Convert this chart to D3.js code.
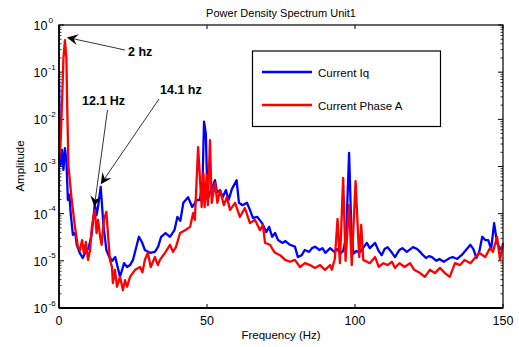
<!DOCTYPE html>
<html><head><meta charset="utf-8">
<script src="https://cdn.jsdelivr.net/npm/d3@7"></script>
<style>body{margin:0;background:#fff}svg{display:block}text{font-family:"Liberation Sans",Arial,sans-serif}</style>
</head><body><svg id="c" width="519" height="347"></svg>
<script>
const xTicks=[0,50,100,150];
const yTickExps=[0,-1,-2,-3,-4,-5,-6];
// Current Iq: frequency (Hz) and log10 amplitude
const freqIq=[0,0.5,1,1.5,2,2.5,3,3.5,4,4.7,5.5,6,7,8,9,10,11,12.1,12.7,13.2,14.1,15,16,17,18,19,20.6,22,23,24,25,27,28,29,30.7,32.4,33.5,34.5,36,37.5,39,40,41,42,43.6,45,46.6,47.6,48.5,49,49.6,50.2,51,52,52.7,53.4,54.4,55.3,56.4,57.3,58.4,60,60.8,62,63.5,64.5,65.5,67,68.6,70,71,72,73,74,75.5,76.5,78,79.7,80.7,82,83,84.5,85.5,86.5,88,89,90,91.6,93,94,95,96,97,98,98.8,99.5,100.5,101.5,102.7,104,105,106.8,108,109,110,111,112.5,113.5,115,116,117.5,119.6,121,122,123,124,125,126,127.5,128.5,130,131,132,133,134.5,136,137.5,139,140,141,142,143,144,145,146,147,148,149,150];
const logIq=[-1.17,-2.97,-2.65,-3.07,-2.61,-2.86,-3.71,-3.60,-4.03,-4.45,-4.41,-4.66,-4.83,-4.94,-4.81,-4.73,-4.45,-3.80,-4.03,-3.85,-3.43,-4.24,-4.77,-4.92,-5.00,-4.92,-5.34,-5.05,-5.13,-5.09,-4.98,-4.49,-4.60,-4.77,-4.83,-4.81,-4.70,-4.49,-4.41,-4.49,-4.35,-4.07,-4.15,-3.77,-3.65,-3.86,-3.71,-3.71,-3.30,-2.05,-2.30,-3.71,-3.55,-3.40,-3.29,-3.55,-3.50,-3.65,-3.50,-3.71,-3.48,-3.29,-3.77,-3.82,-3.77,-3.92,-4.09,-4.07,-4.20,-4.39,-4.28,-4.49,-4.41,-4.56,-4.62,-4.58,-4.66,-4.70,-4.92,-4.88,-4.77,-4.81,-4.73,-4.70,-4.77,-4.73,-4.83,-4.73,-4.81,-4.75,-4.85,-4.79,-4.50,-2.71,-4.40,-4.85,-4.79,-4.83,-4.73,-4.62,-4.73,-4.62,-4.79,-4.88,-4.75,-4.71,-4.83,-4.92,-4.77,-4.73,-4.81,-4.71,-4.75,-4.81,-4.88,-4.94,-4.90,-4.92,-5.00,-4.96,-5.02,-4.98,-4.94,-4.92,-4.96,-4.88,-4.77,-4.66,-4.75,-4.94,-4.80,-4.49,-4.56,-4.56,-4.75,-4.20,-4.62,-4.75,-4.71];
// Current Phase A: frequency (Hz) and log10 amplitude
const freqA=[0,0.6,1.1,1.5,2,2.5,2.8,3.2,4.3,5.4,6.4,7.1,7.8,8.4,9.1,9.8,10.5,11.1,12.1,12.7,13.2,13.9,14.4,15.2,16,16.7,17.2,17.9,18.2,18.9,19.6,20.6,21.6,22.3,23,24,25.7,27.4,28.2,29,30,31,32.4,33.4,34.1,35.8,37.5,38.5,39.5,40.9,42.6,44.3,45.3,45.9,47,48.2,48.8,49.2,49.9,50.3,51,51.6,52.7,53.5,54.4,55.7,56.7,57.8,59.5,61.1,62.8,64.5,66.2,67.9,68.9,69.6,71.3,72.3,73,74.7,76.4,78,79.7,81.4,83.1,84.8,86.5,88.2,89.9,91.6,92.2,93.2,94.1,94.9,96,96.8,98,98.9,100.2,101.4,102.1,102.8,104,105,106.8,108,109.6,111,112.5,113.5,115,116.7,118.6,120,122,123.6,125.3,127,128.7,130.4,132,133.8,135.5,137,139,140.5,142,144,145.6,146.6,148,149,150];
const logA=[-2.86,-2.40,-1.50,-0.70,-0.32,-0.70,-1.80,-3.00,-3.71,-4.28,-4.71,-4.77,-4.56,-4.83,-4.60,-4.98,-4.77,-4.28,-3.92,-4.41,-4.13,-4.49,-4.66,-4.13,-3.96,-4.56,-4.98,-5.13,-5.47,-5.19,-5.55,-5.34,-5.62,-5.41,-5.55,-5.34,-5.19,-5.13,-5.24,-4.98,-4.83,-5.13,-4.92,-5.09,-4.98,-4.83,-4.66,-4.81,-4.71,-4.41,-4.35,-4.28,-3.99,-4.13,-2.59,-3.86,-3.14,-3.86,-3.18,-3.82,-2.44,-3.77,-3.35,-3.77,-3.50,-3.82,-3.65,-3.92,-3.77,-4.07,-3.88,-4.20,-4.13,-4.35,-4.24,-4.62,-4.66,-4.77,-4.83,-4.88,-4.98,-5.02,-4.98,-5.13,-5.05,-5.09,-5.15,-5.09,-5.19,-5.09,-5.19,-4.95,-4.11,-5.05,-3.24,-5.00,-3.82,-5.09,-3.31,-4.92,-4.24,-4.98,-5.02,-5.05,-4.92,-5.13,-5.05,-5.09,-5.02,-5.15,-5.05,-5.13,-5.05,-5.19,-5.26,-5.34,-5.19,-5.26,-5.15,-5.26,-5.34,-5.05,-5.09,-4.98,-5.05,-4.94,-4.83,-4.92,-4.73,-4.81,-4.49,-4.98,-4.62];
const seriesNames=["Current Iq","Current Phase A"];
const seriesColors=["#0000ff","#ff0000"];
const annotations=[
  {label:"2 hz",tx:128,ty:56,x1:125,y1:50,f:2,v:0.52,dx:2,dy:-1},
  {label:"12.1 Hz",tx:82,ty:105,x1:107.5,y1:110,f:12.1,v:1.3e-4,dx:-0.5,dy:-1.5},
  {label:"14.1 hz",tx:160,ty:94,x1:159,y1:99,f:14.1,v:4.0e-4,dx:0,dy:-1}
];

const svg=d3.select("#c");
const L=59,R=503,T=25,B=308;
const x=d3.scaleLinear().domain([0,150]).range([L,R]);
const y=d3.scaleLog().domain([1e-6,1]).range([B,T]);

// minor ticks
const minor=[];
for(let e=-6;e<0;e++)for(let k=2;k<10;k++)minor.push(k*Math.pow(10,e));
const g=svg.append("g");
g.selectAll(".mnl").data(minor).join("line").attr("x1",L).attr("x2",L+2.5).attr("y1",d=>y(d)).attr("y2",d=>y(d)).attr("stroke","#000").attr("stroke-width",0.8);
g.selectAll(".mnr").data(minor).join("line").attr("x1",R).attr("x2",R-2.5).attr("y1",d=>y(d)).attr("y2",d=>y(d)).attr("stroke","#000").attr("stroke-width",0.8);
g.selectAll(".mjl").data(yTickExps).join("line").attr("x1",L).attr("x2",L+5).attr("y1",d=>y(Math.pow(10,d))).attr("y2",d=>y(Math.pow(10,d))).attr("stroke","#000");
g.selectAll(".mjr").data(yTickExps).join("line").attr("x1",R).attr("x2",R-5).attr("y1",d=>y(Math.pow(10,d))).attr("y2",d=>y(Math.pow(10,d))).attr("stroke","#000");
g.selectAll(".xb").data(xTicks).join("line").attr("x1",d=>x(d)).attr("x2",d=>x(d)).attr("y1",B).attr("y2",B-4).attr("stroke","#000");
g.selectAll(".xt").data(xTicks).join("line").attr("x1",d=>x(d)).attr("x2",d=>x(d)).attr("y1",T).attr("y2",T+4).attr("stroke","#000");

// data lines
const line=d3.line().x(d=>x(d[0])).y(d=>y(d[1]));
const dIq=freqIq.map((f,i)=>[f,Math.pow(10,logIq[i])]);
const dA=freqA.map((f,i)=>[f,Math.pow(10,logA[i])]);
svg.append("path").datum(dIq).attr("d",line).attr("fill","none").attr("stroke",seriesColors[0]).attr("stroke-width",2.3).attr("stroke-linejoin","round");
svg.append("path").datum(dA).attr("d",line).attr("fill","none").attr("stroke",seriesColors[1]).attr("stroke-width",2.3).attr("stroke-linejoin","round");

// box
svg.append("rect").attr("x",L).attr("y",T).attr("width",R-L).attr("height",B-T).attr("fill","none").attr("stroke","#000").attr("stroke-width",1.2);
svg.append("line").attr("x1",L).attr("x2",R).attr("y1",B).attr("y2",B).attr("stroke","#000").attr("stroke-width",2);
svg.append("line").attr("x1",L).attr("x2",L).attr("y1",T).attr("y2",B).attr("stroke","#000").attr("stroke-width",1.6);

// tick labels
svg.selectAll(".xl").data(xTicks).join("text").attr("x",d=>x(d)).attr("y",325).attr("text-anchor","middle").attr("font-size",12.5).text(d=>d);
const yl=svg.selectAll(".yl").data(yTickExps).join("text").attr("x",47.5).attr("y",d=>y(Math.pow(10,d))+5).attr("text-anchor","end").attr("font-size",12.5);
yl.append("tspan").text("10");
svg.selectAll(".ys").data(yTickExps).join("text").attr("x",48.5).attr("y",d=>y(Math.pow(10,d))-2.5).attr("font-size",8).text(d=>d);

// labels
svg.append("text").attr("x",281).attr("y",17).attr("text-anchor","middle").attr("font-size",11).text("Power Density Spectrum Unit1");
svg.append("text").attr("x",281).attr("y",339).attr("text-anchor","middle").attr("font-size",11.5).text("Frequency (Hz)");
svg.append("text").attr("transform","translate(24,166) rotate(-90)").attr("text-anchor","middle").attr("font-size",11.5).text("Amplitude");

// legend
const lg=svg.append("g");
lg.append("rect").attr("x",252.5).attr("y",51).attr("width",188).attr("height",75.5).attr("fill","#fff").attr("stroke","#000").attr("stroke-width",1.2);
const ly=[72,105];
seriesNames.forEach((n,i)=>{
  lg.append("line").attr("x1",262).attr("x2",312).attr("y1",ly[i]).attr("y2",ly[i]).attr("stroke",seriesColors[i]).attr("stroke-width",2.3);
  lg.append("text").attr("x",318).attr("y",ly[i]+4.5).attr("font-size",11.5).text(n);
});

// annotations
annotations.forEach(a=>{
  const x2=x(a.f)+a.dx,y2=y(a.v)+a.dy;
  const ang=Math.atan2(y2-a.y1,x2-a.x1);
  const len=11,w=5.5,back=7;
  const ux=Math.cos(ang),uy=Math.sin(ang),px=-uy,py=ux;
  const bx=x2-ux*len,by=y2-uy*len;
  const mx=x2-ux*back,my=y2-uy*back;
  svg.append("line").attr("x1",a.x1).attr("y1",a.y1).attr("x2",mx).attr("y2",my).attr("stroke","#000").attr("stroke-width",0.8);
  svg.append("path").attr("d",`M${x2},${y2}L${bx+px*w},${by+py*w}L${mx},${my}L${bx-px*w},${by-py*w}Z`).attr("fill","#000");
  svg.append("text").attr("x",a.tx).attr("y",a.ty).attr("font-size",12.5).attr("font-weight","bold").text(a.label);
});
</script></body></html>
